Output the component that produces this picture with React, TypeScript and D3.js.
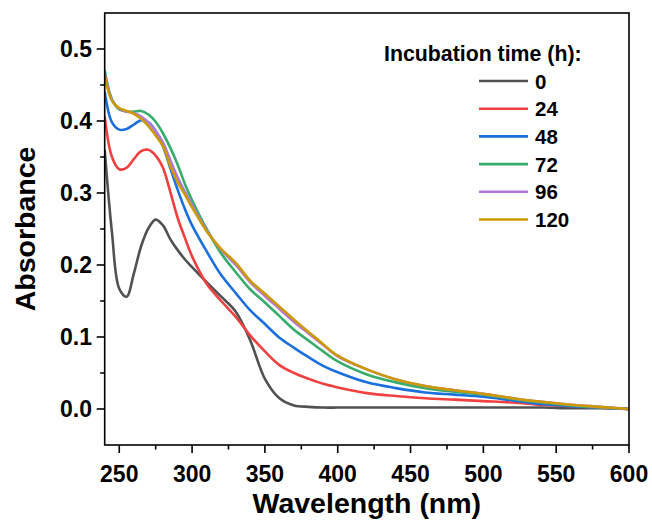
import React from "react";
import * as d3 from "d3";

const wavelengths = [240, 245, 250, 255, 260, 265, 270, 275, 280, 285, 290, 295, 300, 310, 320, 330, 340, 350, 360, 370, 380, 390, 400, 420, 440, 460, 480, 500, 520, 540, 560, 580, 600];

const abs0h = [0.36, 0.245, 0.167, 0.156, 0.188, 0.226, 0.251, 0.263, 0.255, 0.236, 0.221, 0.208, 0.197, 0.176, 0.156, 0.135, 0.095, 0.042, 0.015, 0.005, 0.003, 0.002, 0.002, 0.002, 0.002, 0.002, 0.002, 0.002, 0.002, 0.002, 0.001, 0.001, 0.0];
const abs24h = [0.406, 0.35, 0.333, 0.335, 0.347, 0.358, 0.36, 0.352, 0.335, 0.302, 0.266, 0.238, 0.212, 0.174, 0.15, 0.128, 0.102, 0.08, 0.061, 0.05, 0.042, 0.035, 0.03, 0.022, 0.018, 0.015, 0.013, 0.011, 0.009, 0.006, 0.004, 0.002, 0.0];
const abs48h = [0.441, 0.398, 0.388, 0.389, 0.395, 0.401, 0.398, 0.386, 0.365, 0.335, 0.305, 0.278, 0.255, 0.219, 0.186, 0.161, 0.137, 0.118, 0.099, 0.085, 0.072, 0.06, 0.051, 0.037, 0.029, 0.023, 0.02, 0.017, 0.012, 0.007, 0.004, 0.002, 0.0];
const abs72h = [0.47, 0.43, 0.416, 0.413, 0.413, 0.414, 0.409, 0.399, 0.383, 0.363, 0.34, 0.313, 0.29, 0.25, 0.216, 0.19, 0.166, 0.148, 0.129, 0.11, 0.095, 0.08, 0.066, 0.048, 0.037, 0.029, 0.024, 0.02, 0.014, 0.009, 0.005, 0.002, 0.0];
const abs96h = [0.466, 0.429, 0.417, 0.413, 0.411, 0.406, 0.398, 0.386, 0.37, 0.346, 0.322, 0.302, 0.283, 0.248, 0.221, 0.2, 0.176, 0.157, 0.139, 0.121, 0.105, 0.089, 0.073, 0.055, 0.041, 0.032, 0.026, 0.021, 0.015, 0.01, 0.006, 0.003, 0.0];
const abs120h = [0.463, 0.428, 0.418, 0.414, 0.41, 0.403, 0.393, 0.38, 0.365, 0.338, 0.315, 0.298, 0.28, 0.247, 0.222, 0.203, 0.178, 0.16, 0.142, 0.124, 0.107, 0.09, 0.074, 0.055, 0.041, 0.032, 0.026, 0.021, 0.015, 0.01, 0.006, 0.003, 0.0];

const seriesNames = ["0", "24", "48", "72", "96", "120"];
const seriesColors = ["#515151", "#F14040", "#1A6FDF", "#37AD6B", "#B177DE", "#CC9900"];
const seriesValues = [abs0h, abs24h, abs48h, abs72h, abs96h, abs120h];

const xMajorTicks = [250, 300, 350, 400, 450, 500, 550, 600];
const xMinorTicks = [275, 325, 375, 425, 475, 525, 575];
const yMajorTicks = [0.0, 0.1, 0.2, 0.3, 0.4, 0.5];
const yMinorTicks = [0.05, 0.15, 0.25, 0.35, 0.45];

const legendTitle = "Incubation time (h):";
const xTitle = "Wavelength (nm)";
const yTitle = "Absorbance";

export default function App() {
  const W = 652, H = 525;
  const left = 104.7, right = 629, top = 13, bottom = 445;
  const x = d3.scaleLinear().domain([240, 600]).range([left, right]);
  const y = d3.scaleLinear().domain([-0.05, 0.55]).range([bottom, top]);
  const line = d3
    .line<number>()
    .x((_, i) => x(wavelengths[i]))
    .y((d) => y(d))
    .curve(d3.curveCatmullRom.alpha(0.5));
  const font = "'Liberation Sans', Arial, Helvetica, sans-serif";
  const legendX1 = 479, legendX2 = 528, legendY0 = 81, legendDy = 27.7;

  return (
    <svg width={W} height={H} style={{ position: "absolute", left: 0, top: 0, background: "#fff" }} fontFamily={font}>
      <defs>
        <clipPath id="plotclip">
          <rect x={left} y={top} width={right - left} height={bottom - top} />
        </clipPath>
      </defs>
      <g clipPath="url(#plotclip)">
        {seriesValues.map((vals, k) => (
          <path key={k} d={line(vals) || ""} fill="none" stroke={seriesColors[k]} strokeWidth={2.6} strokeLinejoin="round" />
        ))}
      </g>
      <rect x={left} y={top} width={right - left} height={bottom - top} fill="none" stroke="#000" strokeWidth={1.6} />
      {xMajorTicks.map((t) => (
        <g key={"xm" + t}>
          <line x1={x(t)} x2={x(t)} y1={bottom} y2={bottom + 8} stroke="#000" strokeWidth={1.6} />
          <text x={x(t)} y={481.5} textAnchor="middle" fontSize={23} fontWeight="bold">{t}</text>
        </g>
      ))}
      {xMinorTicks.map((t) => (
        <line key={"xn" + t} x1={x(t)} x2={x(t)} y1={bottom} y2={bottom + 4.5} stroke="#000" strokeWidth={1.6} />
      ))}
      {yMajorTicks.map((t) => (
        <g key={"ym" + t}>
          <line x1={left} x2={left - 8} y1={y(t)} y2={y(t)} stroke="#000" strokeWidth={1.6} />
          <text x={92} y={y(t) + 8.3} textAnchor="end" fontSize={23} fontWeight="bold">{d3.format(".1f")(t)}</text>
        </g>
      ))}
      {yMinorTicks.map((t) => (
        <line key={"yn" + t} x1={left} x2={left - 4.5} y1={y(t)} y2={y(t)} stroke="#000" strokeWidth={1.6} />
      ))}
      <text x={(left + right) / 2} y={513} textAnchor="middle" fontSize={28.5} fontWeight="bold">{xTitle}</text>
      <text transform={`translate(35, ${(top + bottom) / 2}) rotate(-90)`} textAnchor="middle" fontSize={28.5} fontWeight="bold">{yTitle}</text>
      <text x={384} y={61} fontSize={21.3} fontWeight="bold">{legendTitle}</text>
      {seriesNames.map((n, k) => (
        <g key={"lg" + n}>
          <line x1={legendX1} x2={legendX2} y1={legendY0 + k * legendDy} y2={legendY0 + k * legendDy} stroke={seriesColors[k]} strokeWidth={2.6} />
          <text x={535} y={legendY0 + k * legendDy + 7.5} fontSize={20.5} fontWeight="bold">{n}</text>
        </g>
      ))}
    </svg>
  );
}
